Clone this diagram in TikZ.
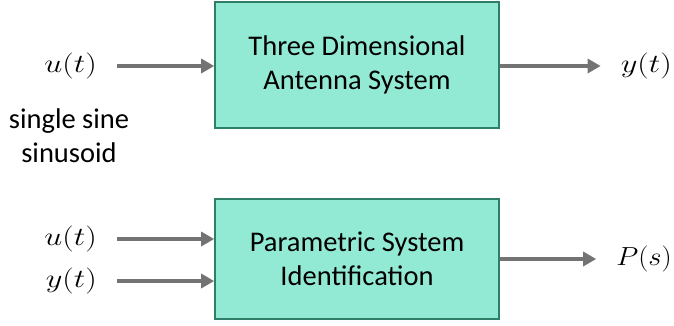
\documentclass[tikz,border=0pt]{standalone}
\usepackage{fontspec}
\setmainfont{Carlito}
\usetikzlibrary{arrows.meta,positioning,calc}

\definecolor{boxfill}{HTML}{93EAD4}
\definecolor{boxline}{HTML}{2F7F68}
\definecolor{siggray}{HTML}{737373}

\newcommand{\sigvar}[2][1.3]{\scalebox{#1}[1.05]{$#2$}}

\begin{document}
\begin{tikzpicture}[x=1pt, y=-1pt,
  every node/.style={font=\fontsize{28.5}{34}\selectfont},
  block/.style={draw=boxline, line width=1.6pt, fill=boxfill, align=center, minimum width=284pt},
  sig/.style={draw=siggray, line width=4.5pt, -{Triangle[length=13pt, width=14pt]}},
  var/.style={inner sep=0pt, font=\fontsize{24.88}{34}\selectfont}]
\useasboundingbox (0,0) rectangle (674,325);

% identification experiment
\node[block, minimum height=126pt] (antenna) at (357,65) {Three Dimensional\\Antenna System};
\node[var, anchor=east] (uin) at (97,66) {\sigvar{u(t)}};
\node[var, anchor=east] (yout) at (672,66) {\sigvar{y(t)}};
\node[align=center, inner sep=0pt] (excite) at (69,136) {single sine\\sinusoid};

% estimation
\node[block, minimum height=120pt] (ident) at (357,259) {Parametric System\\Identification};
\node[var, anchor=east] (udata) at (97,239) {\sigvar{u(t)}};
\node[var, anchor=east] (ydata) at (97,281) {\sigvar{y(t)}};
\node[var, anchor=east] (plant) at (672,259) {\sigvar[1.15]{P(s)}};

\draw[sig, shorten <=20pt] (uin) -- (uin -| antenna.west);
\draw[sig, shorten >=20pt] (antenna.east |- yout) -- (yout);
\draw[sig, shorten <=20pt] (udata) -- (udata -| ident.west);
\draw[sig, shorten <=20pt] (ydata) -- (ydata -| ident.west);
\draw[sig, shorten >=20pt] (ident.east |- plant) -- (plant);
\end{tikzpicture}
\end{document}
